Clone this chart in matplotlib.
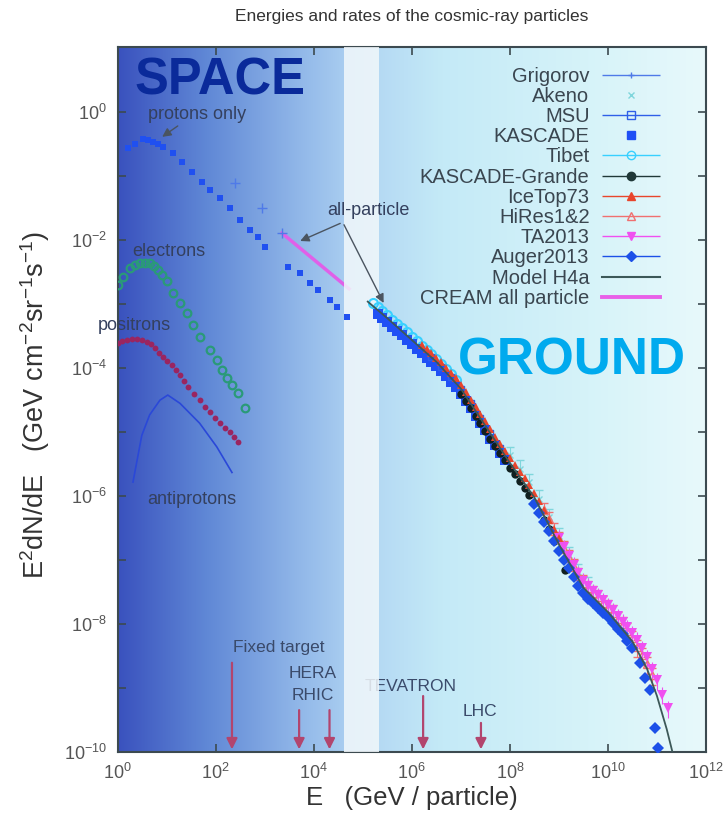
import numpy as np
import matplotlib
matplotlib.use("Agg")
import matplotlib.pyplot as plt
from matplotlib.colors import LinearSegmentedColormap
from matplotlib.container import ErrorbarContainer
from matplotlib.legend_handler import HandlerErrorbar
from matplotlib.lines import Line2D
from matplotlib.ticker import FixedLocator, NullFormatter

plt.rcParams['font.family'] = ['Liberation Sans', 'DejaVu Sans']
plt.rcParams['mathtext.default'] = 'regular'

# --- data, stored as log10(E / GeV) and log10(E^2 dN/dE) ---
protons_logE = [0.2, 0.35, 0.51, 0.61, 0.71, 0.82, 0.92, 1.12, 1.31, 1.51, 1.71, 1.88, 2.08,
                2.29, 2.49, 2.69, 2.86, 3.0, 3.47, 3.71, 3.92, 4.08, 4.33, 4.47, 4.67]
protons_logF = [-0.56, -0.5, -0.42, -0.43, -0.47, -0.5, -0.55, -0.64, -0.78, -0.94, -1.09, -1.22, -1.34,
                -1.5, -1.69, -1.84, -1.95, -2.11, -2.42, -2.52, -2.67, -2.78, -2.94, -3.05, -3.2]

electrons_logE = [0.0, 0.1, 0.24, 0.35, 0.45, 0.55, 0.65, 0.74, 0.82, 0.91, 1.0, 1.12, 1.27, 1.41,
                  1.53, 1.67, 1.88, 2.02, 2.12, 2.22, 2.33, 2.45, 2.59]
electrons_logF = [-2.70, -2.58, -2.44, -2.38, -2.36, -2.35, -2.36, -2.41, -2.47, -2.55, -2.63, -2.83,
                  -2.98, -3.14, -3.33, -3.52, -3.72, -3.88, -4.03, -4.16, -4.27, -4.39, -4.63]

positrons_logE = [0.0, 0.09, 0.18, 0.29, 0.39, 0.49, 0.59, 0.67, 0.76, 0.84, 0.92, 1.01, 1.10, 1.18,
                  1.27, 1.35, 1.43, 1.55, 1.67, 1.78, 1.88, 1.98, 2.08, 2.18, 2.29, 2.37, 2.45]
positrons_logF = [-3.61, -3.57, -3.56, -3.55, -3.55, -3.56, -3.59, -3.63, -3.69, -3.76, -3.83, -3.89,
                  -3.95, -4.03, -4.11, -4.2, -4.30, -4.4, -4.50, -4.6, -4.69, -4.78, -4.86, -4.93,
                  -5.0, -5.07, -5.16]

antiprotons_logE = [0.31, 0.49, 0.65, 0.86, 1.02, 1.27, 1.67, 2.02, 2.33]
antiprotons_logF = [-5.78, -5.05, -4.73, -4.5, -4.42, -4.55, -4.86, -5.23, -5.63]

grigorov_logE = [2.39, 2.94, 3.35]
grigorov_logF = [-1.11, -1.5, -1.88]

cream_logE = [3.35, 4.72]
cream_logF = [-1.89, -2.76]

tibet_logE = [5.2, 5.3, 5.4, 5.5, 5.6, 5.7, 5.8, 5.9, 6.0, 6.1, 6.2, 6.3, 6.4, 6.5, 6.6, 6.7, 6.8, 6.9]
tibet_logF = [-2.98, -3.04, -3.11, -3.17, -3.24, -3.31, -3.37, -3.44, -3.51, -3.58, -3.65, -3.72,
              -3.78, -3.85, -3.93, -4.01, -4.09, -4.18]

kascade_logE = [5.3, 5.4, 5.5, 5.6, 5.7, 5.8, 5.9, 6.0, 6.1, 6.2, 6.3, 6.4, 6.5, 6.6, 6.7, 6.8, 6.9,
                7.0, 7.1, 7.2, 7.3, 7.4, 7.5, 7.6, 7.7, 7.8, 7.9]
kascade_logF = [-3.15, -3.22, -3.28, -3.36, -3.42, -3.48, -3.56, -3.62, -3.70, -3.76, -3.84, -3.90,
                -3.97, -4.05, -4.13, -4.22, -4.30, -4.40, -4.51, -4.62, -4.74, -4.86, -4.97, -5.10,
                -5.20, -5.33, -5.44]

msu_logE = [6.4, 6.6, 6.8, 7.0, 7.2, 7.4, 7.6, 7.8]
msu_logF = [-3.83, -3.98, -4.14, -4.32, -4.55, -4.78, -5.02, -5.25]

icetop_logE = [6.2, 6.3, 6.4, 6.5, 6.6, 6.7, 6.8, 6.9, 7.0, 7.1, 7.2, 7.3, 7.4, 7.5, 7.6, 7.7, 7.8,
               7.9, 8.0, 8.1, 8.2, 8.3, 8.4, 8.5, 8.6, 8.7, 8.8, 8.9, 9.0]
icetop_logF = [-3.64, -3.70, -3.77, -3.84, -3.91, -3.99, -4.08, -4.16, -4.26, -4.37, -4.49, -4.60,
               -4.72, -4.83, -4.95, -5.07, -5.18, -5.30, -5.41, -5.51, -5.62, -5.72, -5.83, -5.95,
               -6.08, -6.22, -6.37, -6.52, -6.66]

grande_logE = [7.0, 7.1, 7.2, 7.3, 7.4, 7.5, 7.6, 7.7, 7.8, 7.9, 8.0, 8.1, 8.2, 8.3, 8.4, 8.5, 8.6,
               8.7, 8.8, 8.9, 9.12]
grande_logF = [-4.40, -4.51, -4.62, -4.74, -4.86, -4.98, -5.10, -5.21, -5.33, -5.44, -5.56, -5.66,
               -5.77, -5.87, -5.98, -6.10, -6.24, -6.38, -6.52, -6.70, -7.16]

akeno_logE = [8.0, 8.2, 8.4, 8.6, 8.8, 9.0, 9.2, 9.4, 9.6]
akeno_logF = [-5.36, -5.57, -5.78, -6.04, -6.33, -6.63, -6.92, -7.19, -7.39]

hires_logE = [8.7, 8.8, 8.9, 9.0, 9.1, 9.2, 9.3, 9.4, 9.5, 9.6, 9.7, 9.8, 9.9, 10.0, 10.1, 10.2,
              10.3, 10.4, 10.5, 10.6, 10.7, 10.8, 10.9]
hires_logF = [-6.22, -6.36, -6.54, -6.67, -6.82, -6.96, -7.10, -7.24, -7.35, -7.44, -7.52, -7.58,
              -7.67, -7.74, -7.82, -7.92, -8.00, -8.10, -8.22, -8.36, -8.48, -8.62, -8.80]

ta_logE = [9.0, 9.1, 9.2, 9.3, 9.4, 9.5, 9.6, 9.7, 9.8, 9.9, 10.0, 10.1, 10.2, 10.3, 10.4, 10.5,
           10.6, 10.7, 10.8, 10.9, 11.0, 11.1, 11.22]
ta_logF = [-6.65, -6.80, -6.93, -7.07, -7.20, -7.32, -7.40, -7.48, -7.55, -7.63, -7.70, -7.78,
           -7.87, -7.96, -8.05, -8.14, -8.24, -8.38, -8.52, -8.70, -8.88, -9.10, -9.31]

auger_logE = [8.5, 8.6, 8.7, 8.8, 8.9, 9.0, 9.1, 9.2, 9.3, 9.4, 9.5, 9.6, 9.7, 9.8, 9.9, 10.0, 10.1,
              10.2, 10.3, 10.4, 10.5, 10.65, 10.76, 10.86, 10.96, 11.02]
auger_logF = [-6.12, -6.26, -6.40, -6.55, -6.70, -6.85, -6.99, -7.13, -7.27, -7.40, -7.52, -7.60,
              -7.67, -7.74, -7.82, -7.89, -7.98, -8.07, -8.16, -8.26, -8.37, -8.61, -8.84, -9.03,
              -9.62, -9.94]

h4a_logE = [5.1, 5.5, 6.0, 6.5, 7.0, 7.5, 8.0, 8.5, 9.0, 9.5, 10.0, 10.5, 10.8, 11.0, 11.2, 11.35]
h4a_logF = [-2.96, -3.22, -3.56, -3.90, -4.32, -4.90, -5.48, -6.02, -6.75, -7.43, -7.81, -8.27,
            -8.70, -9.12, -9.64, -10.1]

# accelerators: log10(E), arrow start log10(flux)
acc_logE = [2.33, 3.70, 4.32, 6.23, 7.41]
acc_top = [-8.56, -9.3, -9.3, -9.08, -9.5]


def P(v):
    return 10.0 ** np.asarray(v)


fig = plt.figure(figsize=(7.27, 8.22), dpi=100)
ax = fig.add_axes([0.162, 0.085, 0.809, 0.858])
ax.set_xscale('log')
ax.set_yscale('log')
ax.set_xlim(1, 1e12)
ax.set_ylim(1e-10, 10.5)

# background gradient (space -> ground)
cmap = LinearSegmentedColormap.from_list('sky', [
    (0.0, '#3a52be'), (0.15, '#6088d6'), (0.32, '#95bbea'), (0.42, '#b2d6f3'),
    (0.55, '#c4eaf7'), (0.8, '#d6f3f9'), (1.0, '#e8f9fb')])
ax.imshow(np.linspace(0, 1, 512)[None, :], cmap=cmap, aspect='auto', extent=[0, 1, 0, 1],
          transform=ax.transAxes, zorder=0, interpolation='bicubic')

# space data
ax.plot(P(protons_logE), P(protons_logF), 's', color='#2050f0', ms=4.2, mew=0, zorder=4)
ax.plot(P(grigorov_logE), P(grigorov_logF), '+', color='#4f7ae8', ms=7, mew=1, zorder=4)
ax.plot(P(cream_logE), P(cream_logF), '-', color='#e060e8', lw=2.5, zorder=2)
ax.plot(P(electrons_logE), P(electrons_logF), 'o', color='#2a9a78', mfc='none', ms=5.5, mew=1.6, zorder=4)
ax.plot(P(positrons_logE), P(positrons_logF), 'o', color='#9a2560', ms=4.2, mew=0, zorder=4)
ax.plot(P(antiprotons_logE), P(antiprotons_logF), '-', color='#2a48d8', lw=1.2, zorder=4)

# white band between space and ground
ax.axvspan(10 ** 4.62, 10 ** 5.32, color='#f2f8fb', alpha=0.85, lw=0, zorder=3)

# ground data
ax.plot(P(tibet_logE), P(tibet_logF), 'o', color='#38d0ff', mfc='none', ms=6.5, mew=1.5, zorder=4)
ax.plot(P(kascade_logE), P(kascade_logF), 's', color='#1f4ff5', ms=6.5, mew=0, zorder=5)
ax.plot(P(msu_logE), P(msu_logF), 's', color='#2f5fe8', mfc='none', ms=5, mew=1, zorder=5)
ax.plot(P(grande_logE), P(grande_logF), 'o', color='#102020', ms=6, mew=0, zorder=5)
ax.errorbar(P(akeno_logE), P(akeno_logF), yerr=P(akeno_logF) * 0.35, fmt='x', color='#7fd6dc',
            ms=5, elinewidth=0.8, capsize=3, zorder=4)
ax.plot(P(icetop_logE), P(icetop_logF), '^', color='#e8452c', ms=5.5, mew=0, zorder=6)
ax.errorbar(P(hires_logE), P(hires_logF), yerr=P(hires_logF) * 0.3, fmt='^', color='#f07070',
            mfc='none', ms=5.5, mew=1, elinewidth=0.8, capsize=3, zorder=5)
ax.errorbar(P(ta_logE), P(ta_logF), yerr=P(ta_logF) * 0.3, fmt='v', color='#f050f0',
            ms=6.5, mew=0, elinewidth=0.8, capsize=3, zorder=5)
ax.plot(P(auger_logE), P(auger_logF), 'D', color='#1c50e8', ms=6.5, mew=0, zorder=6)
ax.plot(P(h4a_logE), P(h4a_logF), '-', color='#3c5858', lw=1.3, zorder=7)

# accelerator arrows
for e, top in zip(acc_logE, acc_top):
    ax.annotate('', xy=(10 ** e, 1e-10), xytext=(10 ** e, 10 ** top),
                arrowprops=dict(arrowstyle='-|>', color='#b2456e', lw=1.6, mutation_scale=16),
                zorder=2)

txt = dict(color='#3a4a6a', fontsize=12.5, ha='center', va='center')
ax.text(10 ** 3.29, 10 ** -8.36, 'Fixed target', zorder=2, **txt)
ax.text(10 ** 3.98, 10 ** -8.77, 'HERA', zorder=2, **txt)
ax.text(10 ** 3.98, 10 ** -9.11, 'RHIC', zorder=2, **txt)
ax.text(10 ** 5.98, 10 ** -8.98, 'TEVATRON', zorder=2, **txt)
ax.text(10 ** 7.39, 10 ** -9.37, 'LHC', zorder=2, **txt)

lab = dict(color='#34405e', fontsize=13, ha='center', va='center', zorder=8)
ax.text(10 ** 1.61, 10 ** -0.03, 'protons only', **lab)
ax.text(10 ** 1.04, 10 ** -2.17, 'electrons', **lab)
ax.text(10 ** 0.33, 10 ** -3.33, 'positrons', clip_on=False, **lab)
ax.text(10 ** 1.51, 10 ** -6.05, 'antiprotons', **lab)
ax.text(10 ** 5.12, 10 ** -1.53, 'all-particle', **lab)

arr = dict(arrowstyle='-|>', color='#4a5460', lw=1.0, mutation_scale=13)
ax.annotate('', xy=(10 ** 0.86, 10 ** -0.41), xytext=(10 ** 1.27, 10 ** -0.19), arrowprops=arr, zorder=8)
ax.annotate('', xy=(10 ** 3.67, 10 ** -2.03), xytext=(10 ** 4.59, 10 ** -1.72), arrowprops=arr, zorder=8)
ax.annotate('', xy=(10 ** 5.45, 10 ** -3.02), xytext=(10 ** 4.59, 10 ** -1.72), arrowprops=arr, zorder=8)

ax.text(10 ** 2.08, 10 ** 0.48, 'SPACE', color='#0a2a9a', fontsize=36.5, fontweight='bold',
        ha='center', va='center', zorder=8)
ax.text(10 ** 9.27, 10 ** -3.89, 'GROUND', color='#00aaee', fontsize=37, fontweight='bold',
        ha='center', va='center', zorder=8)

# legend
def proxy(label, color, marker, mfc=None, ms=5, bars=True):
    if not bars:
        return Line2D([], [], ls='none', marker=marker, color=color, ms=ms, label=label)
    return ax.errorbar([], [], xerr=[], fmt=marker, color=color, mfc=mfc if mfc else color,
                       ms=ms, elinewidth=1, capsize=3, label=label)

handles = [
    proxy('Grigorov', '#4f7ae8', '+', ms=5),
    proxy('Akeno', '#7fd6dc', 'x', ms=5, bars=False),
    proxy('MSU', '#2f5fe8', 's', mfc='none', ms=6),
    proxy('KASCADE', '#1f4ff5', 's', ms=6, bars=False),
    proxy('Tibet', '#38d0ff', 'o', mfc='none', ms=6),
    proxy('KASCADE-Grande', '#203838', 'o', ms=6),
    proxy('IceTop73', '#e8452c', '^', ms=6),
    proxy('HiRes1&2', '#f07070', '^', mfc='none', ms=6),
    proxy('TA2013', '#f050f0', 'v', ms=6),
    proxy('Auger2013', '#1c50e8', 'D', ms=5),
    Line2D([], [], color='#3c5858', lw=1.5, label='Model H4a'),
    Line2D([], [], color='#e860e8', lw=2.8, label='CREAM all particle'),
]
leg = ax.legend(handles=handles, loc='upper right', bbox_to_anchor=(0.922, 0.972),
                frameon=False, fontsize=14.5, markerfirst=False, numpoints=1,
                handlelength=2.9, handletextpad=0.6, labelspacing=0.06, borderpad=0,
                borderaxespad=0, labelcolor='#3a4650',
                handler_map={ErrorbarContainer: HandlerErrorbar(xerr_size=1.45)})
leg.set_zorder(9)

# axes styling
ax.set_xticks([10.0 ** k for k in range(0, 13, 2)])
ax.xaxis.set_minor_locator(FixedLocator([]))
ax.set_yticks([10.0 ** k for k in range(-10, 1, 2)])
ax.yaxis.set_minor_locator(FixedLocator([10.0 ** k for k in range(-9, 1, 2)]))
ax.yaxis.set_minor_formatter(NullFormatter())
ax.tick_params(which='both', direction='in', top=True, right=True, length=6, width=1.2,
               color='#3c4a50', labelsize=13, labelcolor='#555555', pad=8)
for s in ax.spines.values():
    s.set_color('#3c4a50')
    s.set_linewidth(1.5)

ax.set_xlabel('E   (GeV / particle)', fontsize=18.5, color='#333333')
ax.xaxis.set_label_coords(0.5, -0.048)
ax.set_ylabel('E$^2$dN/dE   (GeV cm$^{-2}$sr$^{-1}$s$^{-1}$)', fontsize=19.5, color='#333333')
ax.yaxis.set_label_coords(-0.112, 0.493)

fig.text(412 / 727, 1 - 17 / 822, 'Energies and rates of the cosmic-ray particles',
         ha='center', va='center', fontsize=12.5, color='#333333')

fig.savefig('out.png', dpi=100)
